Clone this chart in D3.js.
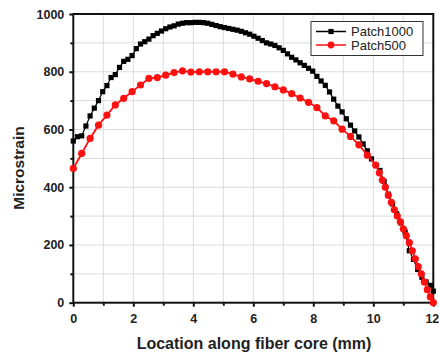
<!DOCTYPE html>
<html><head><meta charset="utf-8">
<script src="https://cdn.jsdelivr.net/npm/d3@7/dist/d3.min.js"></script>
<style>body{margin:0;background:#fff}svg{display:block}text{font-family:"Liberation Sans",Arial,sans-serif}</style>
</head><body><svg id="c" width="439" height="354"></svg>
<script>
// ---- data ----
const xTicks = [0, 2, 4, 6, 8, 10, 12];
const yTicks = [0, 200, 400, 600, 800, 1000];
const seriesNames = ["Patch1000", "Patch500"];
const p1000Step = 0.14; // mm between samples
const p1000Values = [560,575,578,612,647,674,700,731,752,780,790,815,836,843,856,880,896,904,913,925,
  933,941,949,955,959,965,968,970,970,971,971,970,968,964,960,956,953,950,947,944,
  940,935,930,923,916,908,900,896,891,883,874,862,850,841,831,822,812,802,784,768,
  753,730,705,681,661,637,615,595,574,550,526,498,475,458,420,376,342,308,276,245,
  180,150,115,88,72,60];
const p1000End = [[12.0, 40]];
const p500X = [0,0.28,0.56,0.84,1.12,1.40,1.68,1.96,2.24,2.52,2.80,3.08,3.36,3.64,3.92,4.20,4.48,4.76,5.04,5.32,
  5.60,5.88,6.16,6.44,6.72,7.00,7.28,7.56,7.84,8.12,8.40,8.68,8.96,9.24,9.52,9.80,10.08,
  10.2,10.3,10.4,10.5,10.6,10.7,10.8,10.9,11.0,11.1,11.2,11.3,11.4,11.5,11.6,11.7,11.8,11.9,12.0];
const p500Values = [465,517,569,615,650,685,708,731,754,777,780,788,797,803,799,800,800,800,800,792,
  782,775,767,759,748,737,724,709,694,676,647,630,601,576,547,511,477,
  450,425,400,372,348,322,300,280,256,232,208,180,152,125,100,72,45,20,0];

const p1000 = p1000Values.map((v, i) => [i * p1000Step, v]).concat(p1000End);
const p500 = p500X.map((x, i) => [x, p500Values[i]]);

// ---- chart ----
const svg = d3.select("#c");
const L = 73.3, R = 433.3, T = 14, B = 302.7;
const x = d3.scaleLinear().domain([0, 12]).range([L, R]);
const y = d3.scaleLinear().domain([0, 1000]).range([B, T]);

// grid
const g = svg.append("g");
g.selectAll(".gx").data(d3.range(1, 12)).enter().append("line")
  .attr("x1", d => x(d)).attr("x2", d => x(d)).attr("y1", T).attr("y2", B)
  .attr("stroke", "#dcdcdc").attr("stroke-width", 1);
g.selectAll(".gy").data(d3.range(100, 1000, 100)).enter().append("line")
  .attr("y1", d => y(d)).attr("y2", d => y(d)).attr("x1", L).attr("x2", R)
  .attr("stroke", "#dcdcdc").attr("stroke-width", 1);

// axes
const xAxis = svg.append("g").attr("transform", `translate(0,${B})`)
  .call(d3.axisBottom(x).tickValues(xTicks).tickSize(4).tickPadding(7).tickFormat(d3.format("d")));
const xMinor = svg.append("g").attr("transform", `translate(0,${B})`)
  .call(d3.axisBottom(x).tickValues(d3.range(1, 12, 2)).tickSize(3).tickFormat(""));
const yAxis = svg.append("g").attr("transform", `translate(${L},0)`)
  .call(d3.axisLeft(y).tickValues(yTicks).tickSize(4).tickPadding(5).tickFormat(d3.format("d")));
const yMinor = svg.append("g").attr("transform", `translate(${L},0)`)
  .call(d3.axisLeft(y).tickValues(d3.range(100, 1000, 200)).tickSize(3).tickFormat(""));
[xAxis, xMinor, yAxis, yMinor].forEach(a => {
  a.select(".domain").remove();
  a.selectAll(".tick line").attr("stroke", "#111").attr("stroke-width", 2);
  a.selectAll("text").attr("font-size", 12.5).attr("font-weight", "bold").attr("fill", "#222");
});
// keep the last x label inside the window
xAxis.selectAll(".tick text").filter(d => d === 12).attr("text-anchor", "end").attr("x", 5.5);

// frame
svg.append("rect").attr("x", L).attr("y", T).attr("width", R - L).attr("height", B - T)
  .attr("fill", "none").attr("stroke", "#111").attr("stroke-width", 2);

// series
const line = d3.line().x(d => x(d[0])).y(d => y(d[1]));
svg.append("path").datum(p1000).attr("d", line).attr("fill", "none").attr("stroke", "#000").attr("stroke-width", 1.2);
svg.append("g").selectAll("rect").data(p1000).enter().append("rect")
  .attr("x", d => x(d[0]) - 2.6).attr("y", d => y(d[1]) - 2.6).attr("width", 5.2).attr("height", 5.2).attr("fill", "#000");
svg.append("path").datum(p500).attr("d", line).attr("fill", "none").attr("stroke", "#ff1010").attr("stroke-width", 1.8);
svg.append("g").selectAll("circle").data(p500).enter().append("circle")
  .attr("cx", d => x(d[0])).attr("cy", d => y(d[1])).attr("r", 3.6).attr("fill", "#ff1010");

// axis titles
svg.append("text").attr("x", 254).attr("y", 349).attr("text-anchor", "middle")
  .attr("font-size", 16).attr("font-weight", "bold").attr("fill", "#222").text("Location along fiber core (mm)");
svg.append("text").attr("transform", `translate(23.5,168) rotate(-90)`).attr("text-anchor", "middle")
  .attr("font-size", 15.5).attr("font-weight", "bold").attr("fill", "#222").text("Microstrain");

// legend
const lg = svg.append("g");
lg.append("rect").attr("x", 311).attr("y", 21.5).attr("width", 112).attr("height", 34)
  .attr("fill", "#fff").attr("stroke", "#333").attr("stroke-width", 1);
const rows = [{ name: seriesNames[0], c: "#000", sq: true }, { name: seriesNames[1], c: "#ff1010", sq: false }];
rows.forEach((r, i) => {
  const yy = 31.5 + i * 13.5;
  lg.append("line").attr("x1", 316).attr("x2", 346).attr("y1", yy).attr("y2", yy).attr("stroke", r.c).attr("stroke-width", 1.5);
  if (r.sq) lg.append("rect").attr("x", 331 - 2.6).attr("y", yy - 2.6).attr("width", 5.2).attr("height", 5.2).attr("fill", r.c);
  else lg.append("circle").attr("cx", 331).attr("cy", yy).attr("r", 3.4).attr("fill", r.c);
  lg.append("text").attr("x", 351).attr("y", yy + 4.5).attr("font-size", 13).attr("fill", "#222").text(r.name);
});
</script></body></html>
